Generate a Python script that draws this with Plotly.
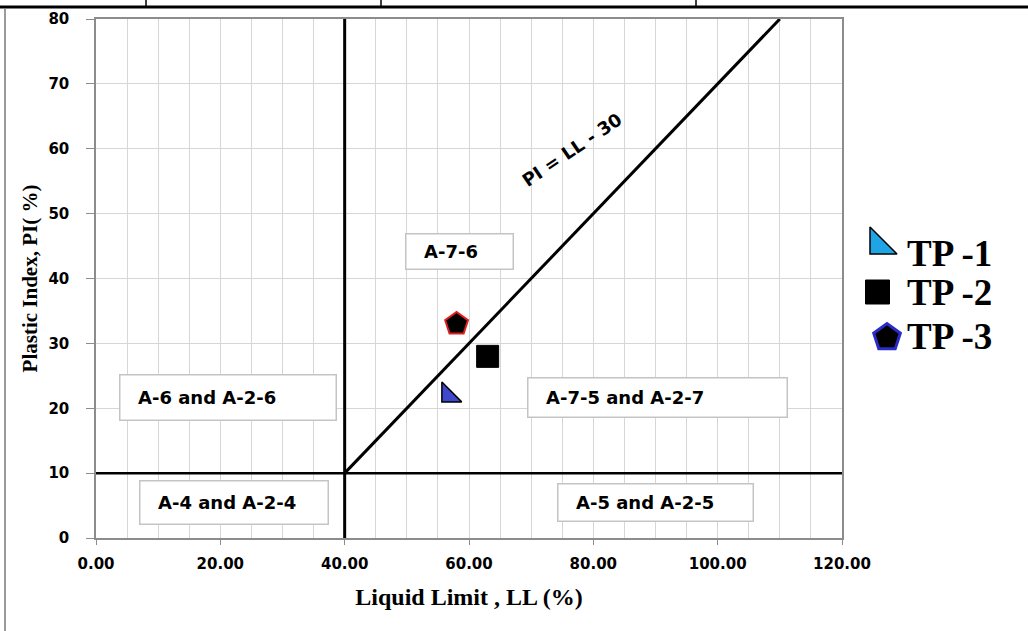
import plotly.graph_objects as go

# ---------------- data ----------------
series_names = ["TP -1", "TP -2", "TP -3"]
ll_values = [56.7, 63.0, 58.0]      # Liquid Limit (%)
pi_values = [22.0, 28.0, 33.0]      # Plastic Index (%)

# classification boundary lines
vert_ll = [40, 40]
vert_pi = [0, 80]
horiz_ll = [0, 120]
horiz_pi = [10, 10]
aline_ll = [40, 110]
aline_pi = [ll - 30 for ll in aline_ll]   # PI = LL - 30

x_ticks = [0, 20, 40, 60, 80, 100, 120]
y_ticks = [0, 10, 20, 30, 40, 50, 60, 70, 80]

zone_labels = ["A-7-6", "A-6 and A-2-6", "A-4 and A-2-4", "A-7-5 and A-2-7", "A-5 and A-2-5"]
zone_left_ll = [49.7, 3.7, 6.9, 69.3, 74.15]
zone_mid_pi = [44.2, 21.6, 5.4, 21.6, 5.4]
zone_w = [108, 217, 189, 260, 196]
zone_h = [32, 42, 40, 36, 34]

# ---------------- figure ----------------
W, H = 1028, 631
ML, MT, MB = 96, 19, 93
plot_w = W - ML
main_right = 746 / plot_w

fig = go.Figure()

line_style = dict(color="black", width=3)
fig.add_trace(go.Scatter(x=vert_ll, y=vert_pi, mode="lines", line=line_style, showlegend=False, hoverinfo="skip"))
fig.add_trace(go.Scatter(x=horiz_ll, y=horiz_pi, mode="lines", line=dict(color="black", width=2.5), showlegend=False, hoverinfo="skip"))
fig.add_trace(go.Scatter(x=aline_ll, y=aline_pi, mode="lines", line=line_style, showlegend=False, hoverinfo="skip"))

# data points
fig.add_trace(go.Scatter(x=[ll_values[0]], y=[pi_values[0]], mode="markers", name=series_names[0],
                         marker=dict(symbol="triangle-sw", size=22, color="#3f48cc",
                                     line=dict(color="black", width=1.5)), showlegend=False))
fig.add_trace(go.Scatter(x=[ll_values[1]], y=[pi_values[1]], mode="markers", name=series_names[1],
                         marker=dict(symbol="square", size=22, color="black",
                                     line=dict(color="black", width=1)), showlegend=False))
fig.add_trace(go.Scatter(x=[ll_values[2]], y=[pi_values[2]], mode="markers", name=series_names[2],
                         marker=dict(symbol="pentagon", size=24, color="black",
                                     line=dict(color="#e02020", width=2)), showlegend=False))

# manual legend on a side axis (pixel-like coordinates)
leg_x = [37, 35.5, 45]
leg_y = [293, 246, 200.5]
leg_symbols = ["triangle-sw", "square", "pentagon"]
leg_colors = ["#1fa5e6", "black", "black"]
leg_line = [dict(color="black", width=1.5), dict(color="black", width=1), dict(color="#2b2bc8", width=3)]
leg_sizes = [30, 24, 28]
for i in range(3):
    fig.add_trace(go.Scatter(x=[leg_x[i]], y=[leg_y[i]], mode="markers", xaxis="x2", yaxis="y2",
                             marker=dict(symbol=leg_symbols[i], size=leg_sizes[i], color=leg_colors[i],
                                         line=leg_line[i]),
                             showlegend=False, hoverinfo="skip"))
leg_text_y = [285, 246, 202]
annotations = []
for i in range(3):
    annotations.append(dict(x=63, y=leg_text_y[i], xref="x2", yref="y2", text=series_names[i],
                            showarrow=False, xanchor="left", yanchor="middle",
                            font=dict(family="Liberation Serif", size=37, color="black", weight="bold")))

# zone label boxes
for lab, lx, my, w, h in zip(zone_labels, zone_left_ll, zone_mid_pi, zone_w, zone_h):
    annotations.append(dict(x=lx, y=my, xref="x", yref="y", text="&nbsp;&nbsp;" + lab,
                            showarrow=False, xanchor="left", yanchor="middle", align="left",
                            width=w - 12, height=h - 8, borderpad=5,
                            bgcolor="white", bordercolor="#c4c4c4", borderwidth=1.5,
                            font=dict(family="DejaVu Sans", size=18, color="black", weight="bold")))

annotations.append(dict(x=76.6, y=59.9, xref="x", yref="y", text="PI = LL - 30", showarrow=False,
                        textangle=-34,
                        font=dict(family="DejaVu Sans", size=18, color="black", weight="bold")))

# frame decorations around the picture
def px_x(p):
    return (p - ML) / plot_w

def px_y(p):
    return (H - MB - p) / (H - MB - MT)

shapes = [
    dict(type="line", xref="paper", yref="paper", x0=px_x(0), x1=px_x(W), y0=px_y(7), y1=px_y(7),
         line=dict(color="black", width=3)),
    dict(type="line", xref="paper", yref="paper", x0=px_x(5), x1=px_x(5), y0=px_y(9), y1=px_y(H),
         line=dict(color="#9a9a9a", width=2)),
]
for vx in [146, 381, 696]:
    shapes.append(dict(type="line", xref="paper", yref="paper", x0=px_x(vx), x1=px_x(vx),
                       y0=px_y(0), y1=px_y(7), line=dict(color="black", width=1.5)))

tick_font = dict(family="DejaVu Sans", size=15, color="black", weight="bold")

fig.update_layout(
    width=W, height=H, autosize=False,
    margin=dict(l=ML, r=0, t=MT, b=MB, pad=0),
    paper_bgcolor="white", plot_bgcolor="white",
    showlegend=False,
    xaxis=dict(domain=[0, main_right], range=[0, 120], tickvals=x_ticks, tickformat=".2f",
               tickfont=tick_font, showgrid=True, gridcolor="#d6d6d6", gridwidth=1,
               minor=dict(dtick=5, showgrid=True, gridcolor="#d6d6d6", gridwidth=1),
               ticks="outside", ticklen=5, tickcolor="#8c8c8c", ticklabelstandoff=6,
               showline=True, linecolor="#8c8c8c", linewidth=1.5, mirror=True, zeroline=False,
               automargin=False,
               title=dict(text="Liquid Limit , LL (%)",
                          font=dict(family="Liberation Serif", size=24, color="black", weight="bold"),
                          standoff=16)),
    yaxis=dict(range=[0, 80], tickvals=y_ticks, tickfont=tick_font,
               showgrid=True, gridcolor="#d6d6d6", gridwidth=1,
               ticks="outside", ticklen=8, tickcolor="#8c8c8c", ticklabelstandoff=14,
               showline=True, linecolor="#8c8c8c", linewidth=1.5, mirror=True, zeroline=False,
               automargin=False,
               title=dict(text="Plastic Index, PI( %)",
                          font=dict(family="Liberation Serif", size=21, color="black", weight="bold"),
                          standoff=5)),
    xaxis2=dict(domain=[main_right, 1], range=[0, W - ML - 746], visible=False, anchor="y2"),
    yaxis2=dict(domain=[0, 1], range=[0, H - MB - MT], visible=False, anchor="x2"),
    annotations=annotations,
    shapes=shapes,
)

post = ("document.body.style.margin='0';document.body.style.padding='0';"
        "document.body.style.overflow='hidden';"
        "var gd=document.getElementById('{plot_id}');"
        "Plotly.relayout(gd,{width:1028,height:631});")

fig.write_html("out.html", config={"responsive": False, "displayModeBar": False}, post_script=post)
